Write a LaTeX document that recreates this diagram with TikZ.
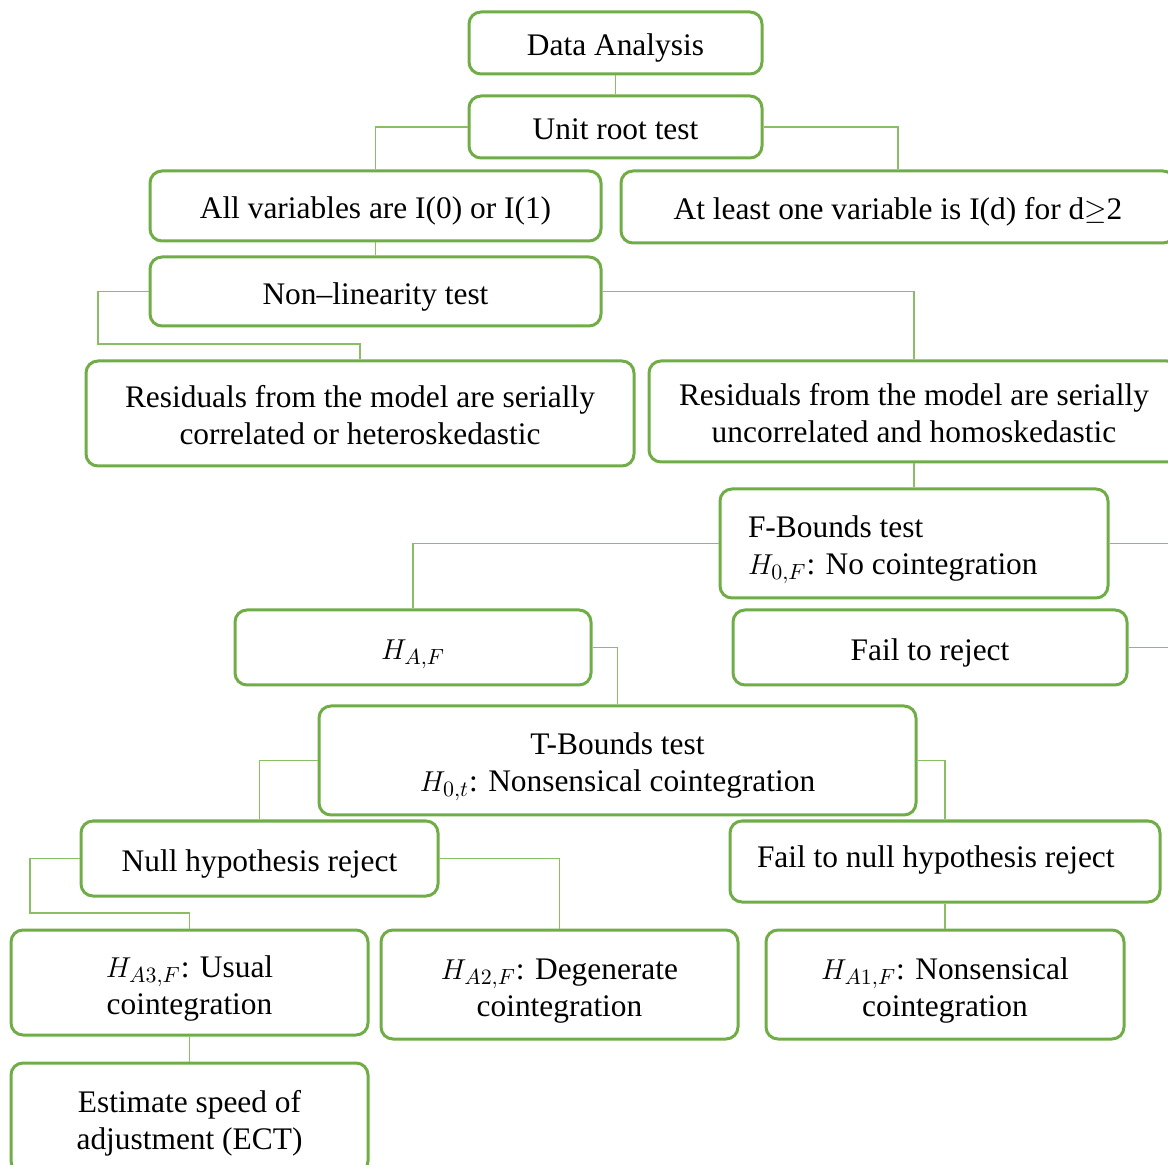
\documentclass[tikz,border=0pt]{standalone}
\usepackage{fontspec}
\setmainfont{Liberation Serif}
\definecolor{boxgreen}{RGB}{112,173,71}
\definecolor{linkgreen}{RGB}{138,190,100}
\newcommand{\highstrut}{\rule{0pt}{17pt}}
\newcommand{\lowstrut}{\rule[-4pt]{0pt}{4pt}}
\newcommand{\deepstrut}{\rule[-11.5pt]{0pt}{11.5pt}}

\begin{document}
\begin{tikzpicture}[x=0.5pt,y=-0.5pt,
box/.style={draw=boxgreen, line width=1.5pt, rounded corners=6pt, fill=white,
  align=center, inner sep=0pt, font=\fontsize{15.7}{18.5}\selectfont,
  execute at begin node=\highstrut, execute at end node=\lowstrut},
leftbox/.style={box, align=flush left, inner xsep=14pt},
link/.style={draw=linkgreen, line width=0.75pt}]
\clip (0,0) rectangle (1168,1165);
\fill[white] (0,0) rectangle (1168,1165);

\node (data) [box, minimum width=146.5pt, minimum height=31pt] at (615.5,43) {Data Analysis};
\node (unit) [box, minimum width=146.5pt, minimum height=31pt] at (615.5,127) {Unit root test};
\node (allvar) [box, minimum width=225.5pt, minimum height=35pt] at (375.5,206) {All variables are I(0) or I(1)};
\node (atleast) [box, minimum width=277pt, minimum height=36pt] at (898,207) {At least one variable is I(d) for d$\geq$2};
\node (nonlin) [box, minimum width=225.5pt, minimum height=34.5pt] at (375.5,291.5) {Non--linearity test};
\node (rescorr) [box, minimum width=274pt, minimum height=52.5pt] at (360,413.5) {\highstrut Residuals from the model are serially\\correlated or heteroskedastic};
\node (resuncorr) [box, minimum width=265pt, minimum height=50.5pt] at (914,411.5) {\highstrut Residuals from the model are serially\\uncorrelated and homoskedastic};
\node (fbounds) [leftbox, text width=166pt, minimum height=54.5pt] at (914,543.5) {F-Bounds test\\$H_{0,F}$: No cointegration};
\node (haf) [box, minimum width=178pt, minimum height=37.5pt] at (413,647.5) {$H_{A,F}$};
\node (failrej) [box, minimum width=197pt, minimum height=37.5pt] at (930,647.5) {Fail to reject};
\node (tbounds) [box, minimum width=298.5pt, minimum height=54.5pt] at (617.5,760.5) {\highstrut T-Bounds test\\$H_{0,t}$: Nonsensical cointegration};
\node (nullrej) [box, minimum width=178.5pt, minimum height=37.5pt] at (259.5,858.5) {Null hypothesis reject};
\node (failnull) [leftbox, inner xsep=13.5pt, text width=188pt, minimum height=40.5pt,
  execute at end node=\deepstrut] at (945,861.5) {Fail to null hypothesis reject};
\node (ha3) [box, minimum width=178.5pt, minimum height=52.5pt] at (189.5,982.5) {\highstrut$H_{A3,F}$: Usual\\cointegration};
\node (ha2) [box, minimum width=178.5pt, minimum height=54.5pt] at (559.5,984.5) {\highstrut$H_{A2,F}$: Degenerate\\cointegration};
\node (ha1) [box, minimum width=179pt, minimum height=54.5pt] at (945,984.5) {\highstrut$H_{A1,F}$: Nonsensical\\cointegration};
\node (ect) [box, minimum width=178.5pt, minimum height=55pt] at (189.5,1118) {\highstrut Estimate speed of\\adjustment (ECT)};

% loose ends leaving the frame on the right
\coordinate (fout) at (1180,543.5);
\coordinate (rout) at (1180,647.5);

\draw[link] (data.south) -- (unit.north);
\draw[link] (unit.west) -| (allvar.north);
\draw[link] (unit.east) -| (atleast.north);
\draw[link] (allvar.south) -- (nonlin.north);
\draw[link] (nonlin.west) -- (98,291.5) |- (360,344) -- (rescorr.north);
\draw[link] (nonlin.east) -| (resuncorr.north);
\draw[link] (resuncorr.south) -- (fbounds.north);
\draw[link] (fbounds.west) -| (haf.north);
\draw[link] (fbounds.east) -- (fout);
\draw[link] (failrej.east) -- (rout);
\draw[link] (haf.east) -| (tbounds.north);
\draw[link] (tbounds.west) -| (nullrej.north);
\draw[link] (tbounds.east) -- (945,760.5) -- (failnull.north);
\draw[link] (nullrej.west) -- (30,858.5) |- (189.5,913) -- (ha3.north);
\draw[link] (nullrej.east) -| (ha2.north);
\draw[link] (failnull.south) -- (ha1.north);
\draw[link] (ha3.south) -- (ect.north);

\end{tikzpicture}
\end{document}
